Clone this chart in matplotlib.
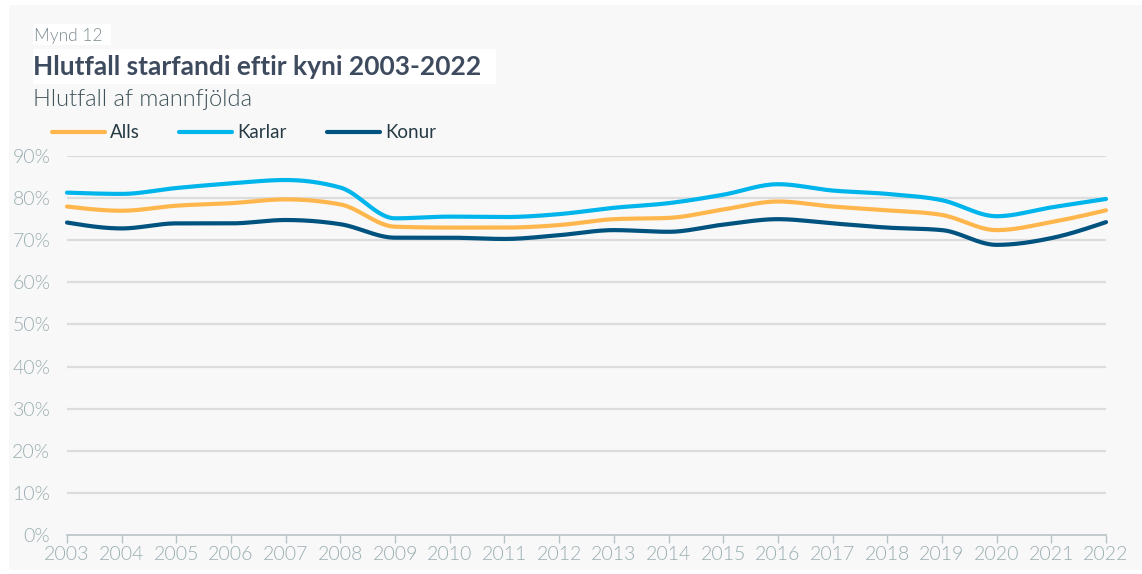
import numpy as np
import matplotlib
matplotlib.use('Agg')
import matplotlib.pyplot as plt
from matplotlib.patches import Rectangle
from matplotlib.lines import Line2D

# data (share of population, %)
years = list(range(2003, 2023))
alls = [78.0, 77.0, 78.2, 78.8, 79.7, 78.5, 73.2, 73.0, 73.0, 73.6,
        75.0, 75.3, 77.3, 79.2, 78.0, 77.1, 76.0, 72.4, 74.3, 77.1]
karlar = [81.3, 81.0, 82.4, 83.5, 84.3, 82.5, 75.2, 75.6, 75.5, 76.2,
          77.7, 78.8, 80.8, 83.3, 81.8, 81.0, 79.5, 75.7, 77.8, 79.8]
konur = [74.2, 72.8, 74.0, 74.0, 74.8, 73.8, 70.6, 70.6, 70.3, 71.2,
         72.4, 72.0, 73.7, 75.0, 74.0, 73.0, 72.4, 68.9, 70.5, 74.3]
series_names = ['Alls', 'Karlar', 'Konur']
yticks = [0, 10, 20, 30, 40, 50, 60, 70, 80, 90]

COLORS = ['#ffb74d', '#00b4ec', '#00527f']
BG = '#f8f8f8'
TICK_COL = '#9aadb2'
FONT = 'Lato'
LIGHT = 300

W, H = 1142, 574


# monotone cubic curve through the points (like d3 curveMonotoneX)
def monotone(x, y, n=30):
    x = np.asarray(x, float)
    y = np.asarray(y, float)
    h = np.diff(x)
    d = np.diff(y) / h
    m = np.zeros_like(y)
    for i in range(1, len(y) - 1):
        s0, s1 = d[i - 1], d[i]
        p = (s0 * h[i] + s1 * h[i - 1]) / (h[i - 1] + h[i])
        m[i] = (np.sign(s0) + np.sign(s1)) * min(abs(s0), abs(s1), 0.5 * abs(p))
    m[0] = (3 * d[0] - m[1]) / 2
    m[-1] = (3 * d[-1] - m[-2]) / 2
    xs, ys = [], []
    for i in range(len(h)):
        t = np.linspace(0, 1, n, endpoint=False)
        h00 = 2 * t**3 - 3 * t**2 + 1
        h10 = t**3 - 2 * t**2 + t
        h01 = -2 * t**3 + 3 * t**2
        h11 = t**3 - t**2
        xs.append(x[i] + t * h[i])
        ys.append(h00 * y[i] + h10 * h[i] * m[i] + h01 * y[i + 1] + h11 * h[i] * m[i + 1])
    xs.append([x[-1]])
    ys.append([y[-1]])
    return np.concatenate(xs), np.concatenate(ys)


fig = plt.figure(figsize=(W / 100, H / 100), dpi=100, facecolor='white')

# grey panel
fig.patches.append(Rectangle((9 / W, 1 - 570 / H), (W - 9) / W, 565 / H,
                             transform=fig.transFigure, facecolor=BG,
                             edgecolor='none', zorder=-2))
# white boxes behind the caption and title
fig.patches.append(Rectangle((33 / W, 1 - 45 / H), 78 / W, 21 / H,
                             transform=fig.transFigure, facecolor='white',
                             edgecolor='none', zorder=-1))
fig.patches.append(Rectangle((33 / W, 1 - 84 / H), 463 / W, 35 / H,
                             transform=fig.transFigure, facecolor='white',
                             edgecolor='none', zorder=-1))

fig.text(34 / W, 1 - 36 / H, 'Mynd 12', family=FONT, weight=LIGHT,
         fontsize=12.5, color='#7d8c92', va='center', ha='left')
fig.text(33 / W, 1 - 67 / H, 'Hlutfall starfandi eftir kyni 2003-2022',
         family=FONT, weight='bold', fontsize=19, color='#3e4b5e',
         va='center', ha='left')
fig.text(33 / W, 1 - 100 / H, 'Hlutfall af mannfjölda', family=FONT,
         weight=LIGHT, fontsize=17, color='#3f5359', va='center', ha='left')

# legend drawn by hand
leg_x = [52, 179, 327]
for name, col, lx in zip(series_names, COLORS, leg_x):
    fig.add_artist(Line2D([lx / W, (lx + 53) / W], [1 - 132 / H, 1 - 132 / H],
                          transform=fig.transFigure, color=col, lw=3,
                          solid_capstyle='round'))
    fig.text((lx + 58) / W, 1 - 132.5 / H, name, family=FONT, fontsize=13.5,
             color='#253a44', va='center', ha='left')

ax = fig.add_axes([67 / W, 1 - 535 / H, (1106 - 67) / W, (535 - 156) / H])
ax.set_facecolor('none')

for vals, col, name in zip([alls, karlar, konur], COLORS, series_names):
    xs, ys = monotone(years, vals)
    ax.plot(xs, ys, color=col, lw=3, solid_capstyle='round', label=name,
            zorder=3, clip_on=False)

ax.set_xlim(2003, 2022)
ax.set_ylim(0, 90)
ax.set_yticks(yticks)
ax.set_yticklabels([f'{v}%' for v in yticks])
ax.set_xticks(years)
ax.set_xticklabels([str(y) for y in years])

for v in yticks[1:]:
    ax.axhline(v, color='#dcdcdc', lw=1.6, zorder=1)

for s in ['top', 'right', 'left']:
    ax.spines[s].set_visible(False)
ax.spines['bottom'].set_color('#b8c2c5')
ax.spines['bottom'].set_linewidth(1.2)

ax.tick_params(axis='y', length=0, pad=12, labelsize=14, labelcolor=TICK_COL)
ax.tick_params(axis='x', length=6, width=1, color='#b8c2c5', pad=2,
               labelsize=14, labelcolor=TICK_COL)
for lab in ax.get_xticklabels() + ax.get_yticklabels():
    lab.set_family(FONT)
    lab.set_weight(LIGHT)

fig.savefig('out.png', dpi=100, facecolor=fig.get_facecolor())
